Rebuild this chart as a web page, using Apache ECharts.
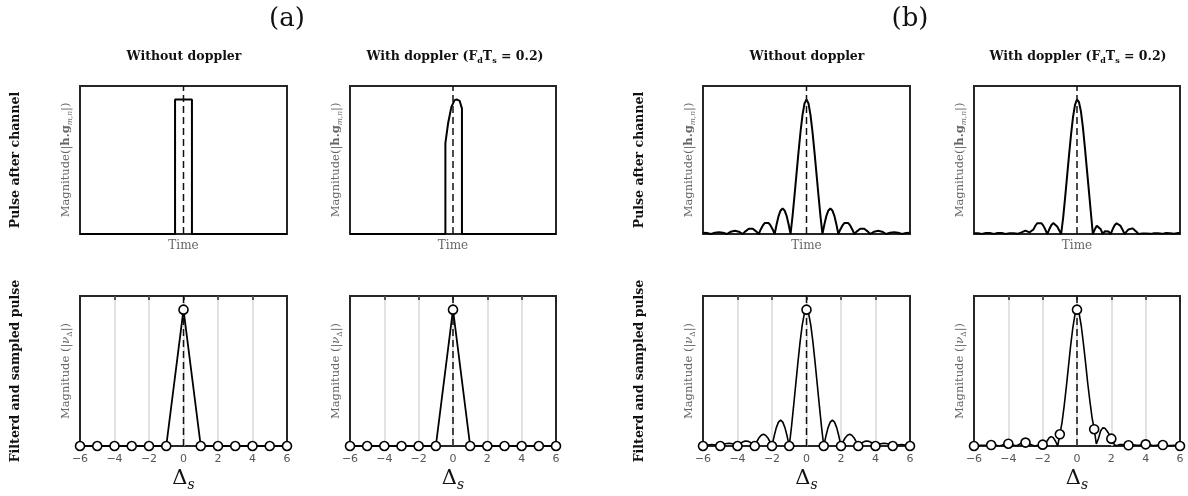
<!DOCTYPE html>
<html><head><meta charset="utf-8">
<script src="https://cdn.jsdelivr.net/npm/echarts@6/dist/echarts.min.js"></script>
<style>html,body{margin:0;padding:0;background:#fff}#c{width:1188px;height:496px}</style>
</head><body><div id="c"></div>
<script>
// ---------------- data ----------------
const STEP = 0.125;            // sampling step of the continuous curves
const TOP_START = -6.5;        // first x of the "Pulse after channel" curves
const BOT_START = -6;          // first x of the filtered curves
const sampleX = [-6,-5,-4,-3,-2,-1,0,1,2,3,4,5,6];

// (a) rectangular pulse, without / with doppler
const pulseA1X = [-6.5,-0.53,-0.53,0.53,0.53,6.5];
const pulseA1Y = [0,0,1,1,0,0];
const pulseA2X = [-6.5,-0.48,-0.48,-0.31,-0.1,0.1,0.23,0.42,0.52,0.565,0.565,6.5];
const pulseA2Y = [0,0,0.675,0.823,0.945,0.995,1.0,0.99,0.95,0.934,0,0];
const sampledA1 = [0,0,0,0,0,0,1,0,0,0,0,0,0];
const sampledA2 = [0,0,0,0,0,0,1,0,0,0,0,0,0];

// (b) sinc-like pulse after channel (x from -6.5 to 6.5, step 0.125)
const pulseB1 = [.01,.009,.007,.004,
0,.005,.01,.013,.014,.013,.01,.005,
0,.009,.017,.022,.024,.022,.017,.009,
0,.016,.03,.039,.042,.039,.03,.016,
0,.034,.062,.081,.088,.081,.062,.034,
0,.073,.135,.175,.19,.175,.135,.073,
0,.135,.29,.45,.61,.76,.885,.97,
1,
.97,.885,.76,.61,.45,.29,.135,0,
.073,.135,.175,.19,.175,.135,.073,0,
.034,.062,.081,.088,.081,.062,.034,0,
.016,.03,.039,.042,.039,.03,.016,0,
.009,.017,.022,.024,.022,.017,.009,0,
.005,.01,.013,.014,.013,.01,.005,0,
.004,.007,.009,.01];
const pulseB2 = [.006,.008,.006,.002,.001,.004,.008,.009,.007,.003,.001,.004,.008,.01,.008,.004,.001,.003,.006,.007,.005,.002,.001,0,
.012,.021,.025,.021,.012,0,
.033,.062,.08,.086,.08,.062,.033,0,
.035,.065,.081,.075,.055,.028,0,
.12,.27,.43,.59,.74,.87,.96,1.0,.98,.91,.79,.64,.48,.32,.16,0,
.035,.062,.06,.035,0,
.02,.027,.018,0,
.035,.065,.08,.078,.06,.032,0,
.018,.034,.041,.042,.032,.017,0,
.002,.004,.005,.004,.002,.001,.003,.006,.007,.005,.002,.001,.004,.008,.009,.006,.002,.002,.006,.008,.006];

// (b) filtered pulse (x from -6 to 6, step 0.125) and its samples
const filteredB1 = [0,.004,.007,.009,.01,.009,.007,.004,
0,.008,.014,.018,.02,.018,.014,.008,
0,.014,.026,.034,.037,.034,.026,.014,
0,.033,.061,.079,.086,.079,.061,.033,
0,.073,.135,.175,.19,.175,.135,.073,
0,.135,.29,.45,.61,.76,.885,.97,
1,
.97,.885,.76,.61,.45,.29,.135,0,
.073,.135,.175,.19,.175,.135,.073,0,
.033,.061,.079,.086,.079,.061,.033,0,
.014,.026,.034,.037,.034,.026,.014,0,
.008,.014,.018,.02,.018,.014,.008,0,
.004,.007,.009,.01,.009,.007,.004,0];
const filteredB2 = [0,.001,.003,.005,.006,.006,.005,.006,.007,
.008,.007,.004,.002,.006,.012,.016,.017,
.015,.01,.004,.003,.012,.02,.025,.025,
.021,.015,.008,.002,.003,.006,.008,.01,
0,.035,.06,.069,.06,.035,0,.086,
.17,.29,.43,.58,.73,.86,.96,1.0,
.97,.88,.75,.61,.46,.33,.21,.123,
.015,.055,.11,.133,.13,.11,.085,.054,
.02,.002,.006,.01,.01,.007,.004,.005,
.007,.008,.007,.005,.006,.009,.011,.012,
.011,.008,.005,.004,.006,.007,.007,.007,
.006,.004,.003,.004,.005,.004,.002,0];
const sampledB1 = [0,0,0,0,0,0,1,0,0,0,0,0,0];
const sampledB2 = [0,.007,.017,.025,.01,.086,1,.123,.054,.005,.012,.007,0];

const Y_MAX = 1.1;

// ---------------- layout / style ----------------
const SERIF = "'DejaVu Serif','Liberation Serif',serif";
const SANS = "'DejaVu Sans',sans-serif";
const colLeft = [80, 350, 703, 974];
const colWidth = [207, 206, 207, 206];
const rowTop = [86, 296];
const rowHeight = [148, 150];

const zip = (xs, ys) => xs.map((x, i) => [x, ys[i]]);
const onGrid = (x0, ys) => ys.map((y, i) => [x0 + i * STEP, y]);

const grids = [], xAxes = [], yAxes = [], series = [];
for (let r = 0; r < 2; r++) for (let c = 0; c < 4; c++) {
  grids.push({left: colLeft[c], top: rowTop[r], width: colWidth[c], height: rowHeight[r],
    show: true, borderColor: '#262626', borderWidth: 2, backgroundColor: 'transparent'});
}
const yNameStyle = {fontFamily: SERIF, fontSize: 11.5, color: '#666', lineHeight: 16,
  rich: {
    b: {fontFamily: SERIF, fontSize: 11.5, fontWeight: 'bold', color: '#666', lineHeight: 16},
    i: {fontFamily: SERIF, fontSize: 11.5, fontStyle: 'italic', color: '#666', lineHeight: 16},
    si: {fontFamily: SERIF, fontSize: 7.5, fontStyle: 'italic', color: '#666', lineHeight: 8, verticalAlign: 'bottom'},
    s: {fontFamily: SERIF, fontSize: 7.5, color: '#666', lineHeight: 8, verticalAlign: 'bottom'}
  }};
for (let g = 0; g < 8; g++) {
  const top = g < 4;
  yAxes.push({gridIndex: g, type: 'value', min: 0, max: Y_MAX,
    axisLine: {show: false}, axisTick: {show: false}, axisLabel: {show: false}, splitLine: {show: false},
    name: top ? 'Magnitude(|{b|h.g}{si|m,n}|)' : 'Magnitude (|{i|ν}{s|Δ}|)',
    nameLocation: 'middle', nameGap: 6, nameTextStyle: yNameStyle});
  if (top) {
    xAxes.push({gridIndex: g, type: 'value', min: -6.5, max: 6.5,
      axisLine: {show: false}, axisTick: {show: false}, axisLabel: {show: false}, splitLine: {show: false},
      name: 'Time', nameLocation: 'middle', nameGap: 6,
      nameTextStyle: {fontFamily: SERIF, fontSize: 12, color: '#666'}});
  } else {
    xAxes.push({gridIndex: g, type: 'value', min: -6, max: 6, interval: 2,
      axisLine: {show: false}, axisTick: {show: false},
      axisLabel: {show: true, margin: 8, fontFamily: SANS, fontSize: 11, color: '#555',
        formatter: v => String(v).replace('-', '\u2212')},
      splitLine: {show: true, showMinLine: false, showMaxLine: false, lineStyle: {color: '#d9d9d9', width: 1.5}},
      name: '{d|Δ}{s|s}', nameLocation: 'middle', nameGap: 20,
      nameTextStyle: {lineHeight: 26, rich: {
        d: {fontFamily: SERIF, fontSize: 21, color: '#111', lineHeight: 26},
        s: {fontFamily: SERIF, fontSize: 14, fontStyle: 'italic', color: '#111', lineHeight: 14, verticalAlign: 'bottom'}}}});
  }
}
// top tick marks for the lower plots
for (let g = 4; g < 8; g++) {
  xAxes.push({gridIndex: g, type: 'value', position: 'top', min: -6, max: 6, interval: 2,
    axisLine: {show: false}, axisLabel: {show: false}, splitLine: {show: false},
    axisTick: {show: true, inside: true, length: 4, lineStyle: {color: '#262626', width: 1.5}}});
}

const curveStyle = w => ({color: '#000', width: w});
function curve(g, data, w) {
  series.push({type: 'line', xAxisIndex: g, yAxisIndex: g, data, symbol: 'none', silent: true,
    lineStyle: curveStyle(w), z: 2, clip: false});
}
function dashed(g) {
  series.push({type: 'line', xAxisIndex: g, yAxisIndex: g, data: [[0, 0], [0, Y_MAX]], symbol: 'none',
    silent: true, lineStyle: {color: '#111', width: 1.5, type: [7, 4]}, z: 3});
}
const markerStyle = {color: '#fff', borderColor: '#000', borderWidth: 1.6, opacity: 1};
function samples(g, ys, withLine) {
  series.push({type: withLine ? 'line' : 'scatter', xAxisIndex: g, yAxisIndex: g, data: zip(sampleX, ys),
    symbol: 'circle', symbolSize: 9, showSymbol: true, itemStyle: markerStyle, silent: true, clip: false,
    lineStyle: curveStyle(1.8), z: 4});
}

curve(0, zip(pulseA1X, pulseA1Y), 2); dashed(0);
curve(1, zip(pulseA2X, pulseA2Y), 2); dashed(1);
curve(2, onGrid(TOP_START, pulseB1), 2); dashed(2);
curve(3, onGrid(TOP_START, pulseB2), 2); dashed(3);
dashed(4); samples(4, sampledA1, true);
dashed(5); samples(5, sampledA2, true);
curve(6, onGrid(BOT_START, filteredB1), 1.6); dashed(6); samples(6, sampledB1, false);
curve(7, onGrid(BOT_START, filteredB2), 1.6); dashed(7); samples(7, sampledB2, false);

// ---------------- texts ----------------
const subRich = {s: {fontFamily: SERIF, fontSize: 8, fontWeight: 'bold', fill: '#111', lineHeight: 8, verticalAlign: 'bottom'}};
function txt(text, x, y, font, rot, rich) {
  return {type: 'text', x, y, rotation: rot || 0, silent: true,
    style: {text, font, fill: '#111', align: 'center', verticalAlign: 'middle',
      textAlign: 'center', textVerticalAlign: 'middle', lineHeight: 16, rich: rich || {}}};
}
const titleFont = 'bold 12.5px ' + SERIF;
const graphics = [
  txt('(a)', 287, 19, '26px ' + SERIF),
  txt('(b)', 910, 19, '26px ' + SERIF),
  txt('Without doppler', 184, 57, titleFont),
  txt('With doppler (F{s|d}T{s|s} = 0.2)', 455, 57, titleFont, 0, subRich),
  txt('Without doppler', 807, 57, titleFont),
  txt('With doppler (F{s|d}T{s|s} = 0.2)', 1078, 57, titleFont, 0, subRich),
  txt('Pulse after channel', 16, 160, titleFont, Math.PI / 2),
  txt('Filterd and sampled pulse', 16, 371, titleFont, Math.PI / 2),
  txt('Pulse after channel', 640, 160, titleFont, Math.PI / 2),
  txt('Filterd and sampled pulse', 640, 371, titleFont, Math.PI / 2)
];

const chart = echarts.init(document.getElementById('c'), null, {renderer: 'canvas'});
chart.setOption({
  animation: false, backgroundColor: '#fff',
  grid: grids, xAxis: xAxes, yAxis: yAxes, series,
  graphic: {elements: graphics}
});
</script></body></html>
